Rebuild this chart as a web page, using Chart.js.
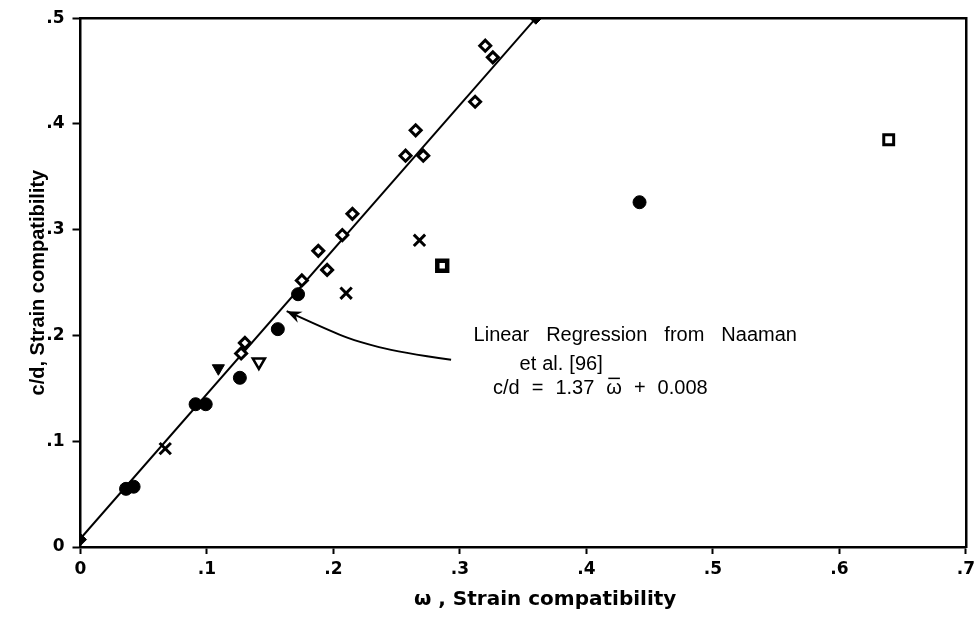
<!DOCTYPE html>
<html lang="en">
<head>
<meta charset="UTF-8">
<title>c/d vs omega, strain compatibility</title>
<style>
  body { margin: 0; background: #fff; }
  canvas { display: block; }
</style>
</head>
<body>
<canvas id="myChart" width="980" height="617"></canvas>
<script src="https://cdn.jsdelivr.net/npm/chart.js"></script>
<script>
// tick labels
const xTickLabels = ['0', '.1', '.2', '.3', '.4', '.5', '.6', '.7'];
const yTickLabels = ['0', '.1', '.2', '.3', '.4', '.5'];

// points, [omega, c/d], one array per marker type
const openDiamonds = [
  [0.127, 0.183], [0.130, 0.193], [0.175, 0.252], [0.188, 0.280], [0.195, 0.262],
  [0.207, 0.295], [0.215, 0.315], [0.257, 0.370], [0.265, 0.394], [0.271, 0.370],
  [0.312, 0.421], [0.320, 0.474], [0.326, 0.463]
];
const filledCircles = [
  [0.036, 0.055], [0.042, 0.057], [0.091, 0.135], [0.099, 0.135], [0.126, 0.160],
  [0.156, 0.206], [0.172, 0.239], [0.442, 0.326]
];
const crosses = [[0.067, 0.093], [0.210, 0.240], [0.268, 0.290]];
const filledTriangles = [[0.109, 0.169]];
const openTriangles = [[0.141, 0.175]];
const dotSquares = [[0.286, 0.266]];
const openSquares = [[0.639, 0.385]];
const filledDiamonds = [[0.000, 0.007], [0.360, 0.500]];

// regression line (Naaman et al.) end points
const lineX = [0, 0.36];
const lineY = [0.008, 0.5];

// arrow from the note to the line, tail first
const arrowX = [0.293, 0.252, 0.220, 0.204, 0.163];
const arrowY = [0.177, 0.184, 0.194, 0.201, 0.223];

// note text: words per line, anchor (line centre) in data units
const noteWords = [
  ['Linear', 'Regression', 'from', 'Naaman'],
  ['et', 'al.', '[96]'],
  ['c/d', '=', '1.37', 'ω', '+', '0.008']
];
const noteX = [0.4386, 0.380, 0.411];
const noteY = [0.200, 0.173, 0.150];
const noteGaps = [17, 6, 12];
const overlined = 'ω'; // omega bar in the formula

function markerSet(points, style, radius, fill, width, rotation) {
  return {
    data: points.map(p => ({ x: p[0], y: p[1] })),
    showLine: false,
    pointStyle: style,
    pointRadius: radius,
    pointHoverRadius: radius,
    pointBackgroundColor: fill,
    pointBorderColor: '#000',
    pointBorderWidth: width,
    pointRotation: rotation || 0,
    order: 0
  };
}

function drawWords(ctx, words, cx, cy, gap) {
  const widths = words.map(w => ctx.measureText(w).width);
  const total = widths.reduce((a, b) => a + b, 0) + gap * (words.length - 1);
  let px = cx - total / 2;
  words.forEach((w, i) => {
    ctx.fillText(w, px, cy);
    if (w === overlined) {
      ctx.beginPath();
      ctx.lineWidth = 1.5;
      ctx.moveTo(px + 2, cy - 10);
      ctx.lineTo(px + widths[i] - 2, cy - 10);
      ctx.stroke();
    }
    px += widths[i] + gap;
  });
}

// arrow, note and x axis title
const notePlugin = {
  id: 'note',
  afterDatasetsDraw(chart) {
    const { ctx, chartArea, scales: { x, y } } = chart;
    const pts = arrowX.map((v, i) => [x.getPixelForValue(v), y.getPixelForValue(arrowY[i])]);
    ctx.save();
    ctx.strokeStyle = '#000';
    ctx.fillStyle = '#000';
    ctx.lineWidth = 2;
    ctx.lineJoin = 'round';
    // smooth curve through the arrow points
    ctx.beginPath();
    ctx.moveTo(pts[0][0], pts[0][1]);
    for (let i = 1; i < pts.length - 1; i++) {
      const mx = (pts[i][0] + pts[i + 1][0]) / 2;
      const my = (pts[i][1] + pts[i + 1][1]) / 2;
      ctx.quadraticCurveTo(pts[i][0], pts[i][1], mx, my);
    }
    const [tx, ty] = pts[pts.length - 1];
    ctx.lineTo(tx, ty);
    ctx.stroke();

    const [bx, by] = pts[pts.length - 2];
    const a = Math.atan2(ty - by, tx - bx);
    ctx.beginPath();
    ctx.moveTo(tx, ty);
    ctx.lineTo(tx - 16 * Math.cos(a - 0.38), ty - 16 * Math.sin(a - 0.38));
    ctx.lineTo(tx - 10 * Math.cos(a), ty - 10 * Math.sin(a));
    ctx.lineTo(tx - 16 * Math.cos(a + 0.38), ty - 16 * Math.sin(a + 0.38));
    ctx.closePath();
    ctx.fill();

    ctx.font = '20px "Liberation Sans", Arial, sans-serif';
    ctx.textAlign = 'left';
    ctx.textBaseline = 'middle';
    noteWords.forEach((words, i) => {
      drawWords(ctx, words, x.getPixelForValue(noteX[i]), y.getPixelForValue(noteY[i]), noteGaps[i]);
    });

    // x axis title, sits a bit right of centre in the original
    ctx.font = 'bold 20px "DejaVu Sans", sans-serif';
    ctx.textAlign = 'center';
    ctx.fillText('ω , Strain compatibility', (chartArea.left + chartArea.right) / 2 + 22, chartArea.bottom + 53);
    ctx.restore();
  }
};

const tickFont = { family: '"DejaVu Sans", sans-serif', weight: 'bold', size: 17 };
const frame = { display: true, color: '#000', width: 2.5 };

const ctx = document.getElementById('myChart').getContext('2d');
const myChart = new Chart(ctx, {
  type: 'scatter',
  data: {
    datasets: [
      {
        type: 'line',
        data: lineX.map((v, i) => ({ x: v, y: lineY[i] })),
        borderColor: '#000',
        borderWidth: 2,
        pointRadius: 0,
        tension: 0,
        fill: false,
        order: 1
      },
      markerSet(openDiamonds, 'rectRot', 5.5, '#fff', 3),
      markerSet(filledCircles, 'circle', 6.5, '#000', 1),
      markerSet(crosses, 'crossRot', 8, '#000', 3),
      markerSet(filledTriangles, 'triangle', 7, '#000', 1, 180),
      markerSet(openTriangles, 'triangle', 7, '#fff', 2.5, 180),
      markerSet(dotSquares, 'rect', 7, '#fff', 4.5),
      markerSet(openSquares, 'rect', 7, '#fff', 3),
      markerSet(filledDiamonds, 'rectRot', 6, '#000', 1)
    ]
  },
  options: {
    responsive: false,
    animation: false,
    layout: { padding: { top: 15, right: 11, left: 0, bottom: 0 } },
    plugins: {
      legend: { display: false },
      tooltip: { enabled: false }
    },
    scales: {
      x: {
        type: 'linear',
        position: 'bottom',
        min: 0,
        max: 0.7,
        afterFit: s => { s.height = 70; },
        ticks: {
          stepSize: 0.1,
          autoSkip: false,
          maxRotation: 0,
          padding: 5,
          color: '#000',
          font: tickFont,
          callback: (v, i) => xTickLabels[i]
        },
        grid: { drawOnChartArea: false, tickLength: 7, tickWidth: 2, tickColor: '#000' },
        border: frame
      },
      y: {
        type: 'linear',
        position: 'left',
        min: 0,
        max: 0.5,
        afterFit: s => { s.width = 80.5; },
        ticks: {
          stepSize: 0.1,
          padding: 8,
          color: '#000',
          font: tickFont,
          callback: (v, i) => yTickLabels[i]
        },
        grid: { drawOnChartArea: false, tickLength: 8, tickWidth: 2, tickColor: '#000' },
        border: frame,
        title: {
          display: true,
          text: 'c/d, Strain compatibility',
          color: '#000',
          font: { family: '"Liberation Sans", Arial, sans-serif', weight: 'bold', size: 20 },
          padding: { top: 26, bottom: 0 }
        }
      },
      x2: {
        type: 'linear',
        position: 'top',
        afterFit: s => { s.height = 0; },
        ticks: { display: false },
        grid: { display: false },
        border: frame
      },
      y2: {
        type: 'linear',
        position: 'right',
        afterFit: s => { s.width = 0; },
        ticks: { display: false },
        grid: { display: false },
        border: frame
      }
    }
  },
  plugins: [notePlugin]
});
</script>
</body>
</html>
